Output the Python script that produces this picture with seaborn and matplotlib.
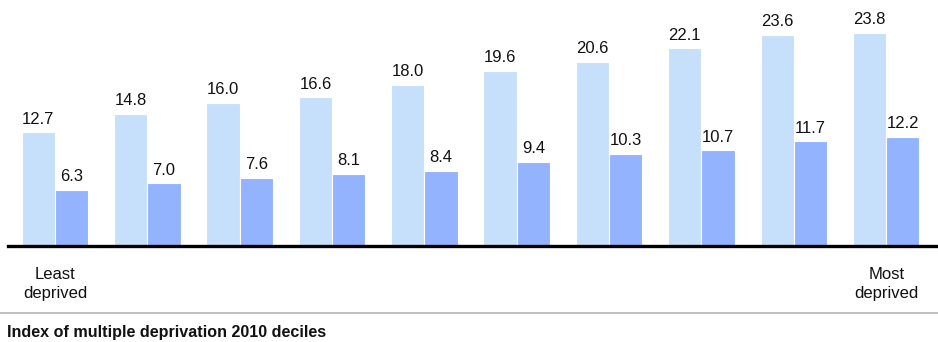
import matplotlib
matplotlib.use("Agg")
import matplotlib.pyplot as plt
from matplotlib.lines import Line2D
import seaborn as sns
import pandas as pd

deciles = ["1", "2", "3", "4", "5", "6", "7", "8", "9", "10"]
series_a = [12.7, 14.8, 16.0, 16.6, 18.0, 19.6, 20.6, 22.1, 23.6, 23.8]
series_b = [6.3, 7.0, 7.6, 8.1, 8.4, 9.4, 10.3, 10.7, 11.7, 12.2]
series_names = ["A", "B"]
end_labels = ["Least\ndeprived", "Most\ndeprived"]
title = "Index of multiple deprivation 2010 deciles"

df = pd.DataFrame({
    "decile": deciles * 2,
    "value": series_a + series_b,
    "series": [series_names[0]] * len(deciles) + [series_names[1]] * len(deciles),
})

sns.set_style("white")
plt.rcParams["font.family"] = ["Liberation Sans", "DejaVu Sans"]

W, H = 938, 342
fig = plt.figure(figsize=(W / 100, H / 100), dpi=100)
ax = fig.add_axes([8 / W, (H - 246) / H, (937 - 8) / W, 246 / H])

palette = {"A": "#C6E0FB", "B": "#94B3FF"}
sns.barplot(data=df, x="decile", y="value", hue="series", order=deciles,
            hue_order=series_names, palette=palette, width=0.72,
            saturation=1, edgecolor="white", linewidth=0.8,
            legend=False, ax=ax)

for cont in ax.containers:
    ax.bar_label(cont, fmt="%.1f", padding=4, fontsize=12, color="#111111")

ax.set_xlim(-0.508, 9.55)
ax.set_ylim(0, 27.49)
ax.set_xlabel("")
ax.set_ylabel("")
ax.set_xticks([])
ax.set_yticks([])
for s in ["top", "left", "right"]:
    ax.spines[s].set_visible(False)
ax.spines["bottom"].set_color("black")
ax.spines["bottom"].set_linewidth(2.4)

# End labels under the first and last deciles
ax.text(0, -0.087, end_labels[0], transform=ax.get_xaxis_transform(),
        ha="center", va="top", fontsize=12, color="#111111", linespacing=1.3)
ax.text(9, -0.087, end_labels[1], transform=ax.get_xaxis_transform(),
        ha="center", va="top", fontsize=12, color="#111111", linespacing=1.3)

# Separator rule and axis caption
fig.add_artist(Line2D([0, 1], [(H - 313) / H] * 2, transform=fig.transFigure,
                      color="#B5B5B5", linewidth=1.2))
fig.text(7 / W, (H - 332) / H, title, ha="left", va="center",
         fontsize=11.6, fontweight="bold", color="#111111")

fig.savefig("out.png", dpi=100)
